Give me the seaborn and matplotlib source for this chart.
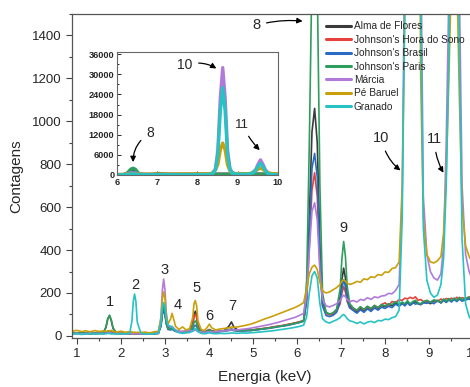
import matplotlib
matplotlib.use("Agg")
import matplotlib.pyplot as plt
import seaborn as sns
import pandas as pd
from matplotlib.ticker import MultipleLocator

# energia (keV) - grade comum a todas as amostras
energia = [0.9, 1.0, 1.1, 1.2, 1.3, 1.4, 1.5, 1.6,
           1.66, 1.70, 1.74, 1.78, 1.82,
           1.9, 2.0, 2.1, 2.2,
           2.25, 2.28, 2.31, 2.34, 2.37,
           2.45, 2.55, 2.65, 2.75, 2.85,
           2.91, 2.94, 2.97, 3.00, 3.03, 3.07,
           3.13, 3.16, 3.19, 3.24,
           3.32, 3.40, 3.48, 3.56,
           3.63, 3.66, 3.69, 3.72, 3.75,
           3.82, 3.90,
           3.96, 4.01, 4.06,
           4.15, 4.25, 4.35,
           4.45, 4.51, 4.57,
           4.65, 4.75, 4.85, 4.95, 5.05, 5.15, 5.25, 5.35, 5.45, 5.55, 5.65, 5.75, 5.85, 5.95, 6.05, 6.15,
           6.22, 6.28, 6.34, 6.40, 6.46, 6.52, 6.58,
           6.66, 6.74, 6.82, 6.90,
           6.98, 7.02, 7.06, 7.10, 7.14, 7.20,
           7.28, 7.36, 7.44, 7.52, 7.60, 7.68, 7.76, 7.84, 7.92, 8.00, 8.08, 8.16, 8.24, 8.32,
           8.39, 8.45, 8.51, 8.57, 8.63, 8.69, 8.75, 8.81, 8.87,
           8.95, 9.03, 9.11, 9.19, 9.27, 9.33,
           9.39, 9.45, 9.51, 9.57, 9.63, 9.69, 9.75,
           9.83, 9.91, 9.99, 10.07, 10.15, 10.23, 10.31, 10.4]

alma_de_flores = [14, 12, 15, 11, 13, 10, 12, 14,
                  40, 78, 95, 72, 35,
                  12, 10, 13, 9,
                  10, 12, 11, 9, 12,
                  10, 8, 11, 9, 14,
                  55, 110, 130, 110, 65, 38,
                  35, 38, 32, 25,
                  20, 18, 22, 24,
                  55, 100, 115, 95, 45,
                  22, 18,
                  25, 30, 24,
                  20, 22, 25,
                  45, 65, 40,
                  28, 24, 27, 25, 29, 31, 34, 37, 40, 44, 47, 50, 55, 60, 64, 70,
                  180, 550, 950, 1060, 900, 420, 150,
                  110, 100, 105, 120,
                  180, 260, 316, 270, 190, 140,
                  125, 112, 128, 118, 134, 122, 138, 128, 142, 136, 148, 140, 154, 144,
                  152, 146, 158, 144, 152, 160, 150, 146, 156,
                  160, 150, 162, 166, 154, 168,
                  158, 170, 162, 174, 164, 176, 166,
                  172, 178, 166, 174, 180, 170, 168, 176]

hora_do_sono = [12, 14, 11, 13, 10, 12, 14, 11,
                15, 20, 22, 18, 14,
                11, 13, 10, 12,
                12, 10, 13, 11, 10,
                12, 9, 10, 13, 11,
                50, 105, 125, 105, 58, 32,
                30, 34, 30, 22,
                19, 21, 18, 22,
                50, 88, 100, 85, 40,
                20, 17,
                22, 28, 22,
                19, 21, 23,
                28, 32, 27,
                26, 25, 28, 27, 30, 33, 35, 38, 42, 45, 48, 52, 56, 60, 66, 72,
                160, 420, 680, 760, 650, 320, 140,
                105, 98, 102, 115,
                150, 200, 230, 205, 160, 130,
                128, 118, 134, 122, 137, 126, 142, 132, 146, 154, 142, 160, 156, 168,
                166, 176, 172, 180, 174, 182, 166, 170, 160,
                164, 158, 166, 160, 172, 166,
                174, 170, 176, 168, 180, 170, 178,
                174, 182, 172, 180, 184, 174, 182, 176]

brasil = [13, 11, 14, 12, 10, 13, 11, 12,
          14, 18, 20, 17, 13,
          12, 10, 11, 13,
          11, 13, 12, 10, 11,
          10, 12, 9, 11, 12,
          45, 98, 118, 100, 55, 30,
          28, 32, 27, 21,
          18, 20, 17, 21,
          30, 44, 50, 44, 28,
          18, 16,
          20, 24, 20,
          18, 20, 22,
          25, 28, 24,
          22, 24, 23, 26, 27, 30, 33, 35, 38, 42, 45, 48, 52, 57, 62, 68,
          170, 480, 780, 850, 740, 360, 140,
          95, 90, 96, 110,
          160, 220, 262, 230, 170, 130,
          118, 106, 122, 110, 126, 114, 130, 120, 134, 128, 138, 132, 148, 138,
          150, 140, 154, 142, 156, 148, 152, 146, 154,
          152, 158, 150, 164, 154, 166,
          156, 168, 158, 170, 160, 172, 162,
          168, 172, 162, 170, 174, 166, 164, 172]

paris = [15, 13, 12, 14, 11, 13, 12, 15,
         42, 80, 96, 75, 38,
         13, 11, 12, 10,
         11, 12, 10, 13, 12,
         11, 10, 12, 10, 13,
         55, 115, 140, 115, 62, 35,
         32, 36, 31, 24,
         20, 19, 21, 23,
         40, 62, 70, 60, 34,
         20, 18,
         22, 27, 22,
         20, 21, 24,
         28, 33, 27,
         25, 24, 27, 26, 29, 31, 34, 36, 40, 43, 46, 50, 54, 58, 63, 70,
         260, 900, 1700, 2000, 1650, 700, 200,
         110, 102, 108, 125,
         220, 360, 440, 370, 230, 150,
         130, 120, 136, 124, 138, 128, 142, 132, 146, 140, 150, 146, 160, 148,
         158, 150, 164, 150, 160, 166, 154, 150, 160,
         166, 156, 168, 162, 158, 172,
         162, 174, 164, 176, 166, 180, 168,
         176, 180, 168, 178, 184, 174, 172, 180]

marcia = [10, 12, 9, 11, 13, 10, 12, 11,
          12, 14, 15, 13, 11,
          10, 12, 9, 11,
          10, 11, 12, 10, 11,
          9, 11, 10, 12, 14,
          90, 210, 265, 215, 110, 50,
          40, 45, 38, 28,
          22, 20, 24, 26,
          22, 25, 28, 24, 20,
          18, 16,
          18, 20, 18,
          19, 22, 24,
          26, 30, 27,
          28, 31, 33, 36, 40, 44, 48, 52, 57, 62, 68, 74, 80, 86, 95, 105,
          190, 400, 580, 620, 540, 300, 170,
          140, 135, 142, 150,
          165, 180, 190, 182, 170, 160,
          165, 158, 170, 166, 178, 170, 182, 178, 186, 188, 198, 196, 212, 240,
          650, 1900, 7500, 23000, 32000, 23000, 7500, 1900, 650,
          380, 300, 270, 260, 290, 420,
          900, 1600, 3200, 4500, 3200, 1600, 700,
          380, 300, 260, 240, 230, 225, 220, 215]

pe_baruel = [22, 26, 20, 24, 19, 25, 21, 23,
             20, 24, 22, 26, 21,
             18, 22, 17, 20,
             19, 16, 18, 15, 17,
             16, 18, 14, 19, 22,
             80, 170, 205, 175, 90, 55,
             80, 105, 85, 45,
             30, 42, 28, 34,
             85, 150, 165, 140, 70,
             30, 26,
             40, 55, 38,
             28, 32, 35,
             38, 42, 40,
             42, 46, 50, 55, 62, 70, 78, 85, 92, 100, 108, 116, 124, 132, 142, 155,
             220, 290, 320, 330, 310, 250, 210,
             200, 205, 215, 225,
             240, 255, 262, 255, 245, 240,
             245, 254, 250, 266, 262, 276, 272, 286, 282, 298, 296, 314, 318, 345,
             700, 1500, 3200, 7500, 9500, 7500, 3000, 1200, 550,
             380, 345, 340, 350, 370, 480,
             750, 1200, 1700, 2000, 1700, 1100, 600,
             420, 370, 340, 330, 320, 315, 318, 312]

granado = [8, 10, 7, 9, 11, 8, 10, 9,
           10, 12, 11, 9, 10,
           8, 10, 9, 12,
           70, 160, 195, 160, 65,
           14, 8, 9, 10, 12,
           65, 130, 155, 135, 80, 50,
           45, 42, 35, 25,
           15, 12, 14, 16,
           22, 30, 35, 30, 20,
           12, 10,
           12, 15, 12,
           10, 12, 11,
           12, 14, 13,
           12, 14, 13, 15, 16, 18, 20, 22, 24, 27, 30, 33, 36, 40, 44, 50,
           90, 200, 280, 300, 270, 150, 80,
           65, 60, 68, 75,
           85, 95, 100, 92, 80, 70,
           66, 58, 65, 56, 64, 68, 62, 72, 70, 78, 76, 85, 90, 120,
           550, 1600, 6200, 19000, 26000, 19000, 6000, 1600, 500,
           260, 200, 180, 190, 240, 360,
           700, 1300, 2500, 3500, 2500, 1300, 450,
           150, 90, 65, 50, 45, 42, 40, 38]

amostras = ["Alma de Flores", "Johnson's Hora do Sono", "Johnson's Brasil",
            "Johnson's Paris", "Márcia", "Pé Baruel", "Granado"]
cores = ["#3a3a3a", "#e8403c", "#2a6cc4", "#2e9e5e", "#b27ad8", "#c9a00a", "#26c2c4"]
series = [alma_de_flores, hora_do_sono, brasil, paris, marcia, pe_baruel, granado]

# dataframe longo para o seaborn
linhas = []
for nome, vals in zip(amostras, series):
    for e, c in zip(energia, vals):
        linhas.append((nome, e, c))
df = pd.DataFrame(linhas, columns=["Amostra", "Energia", "Contagens"])

sns.set_style("ticks")
plt.rcParams["font.family"] = ["Liberation Sans", "DejaVu Sans"]

fig = plt.figure(figsize=(4.70, 3.87), dpi=100)
ax = fig.add_axes([0.153, 0.127, 0.95, 0.837])

sns.lineplot(data=df, x="Energia", y="Contagens", hue="Amostra", hue_order=amostras,
             palette=cores, lw=1.2, ax=ax, sort=False, estimator=None)
ax.set_xlim(0.886, 11.03)
ax.set_ylim(-9, 1500)
ax.xaxis.set_major_locator(MultipleLocator(1))
ax.xaxis.set_minor_locator(MultipleLocator(0.5))
ax.yaxis.set_major_locator(MultipleLocator(200))
ax.yaxis.set_minor_locator(MultipleLocator(100))
ax.set_xticks(range(1, 11))
ax.tick_params(axis="both", which="major", labelsize=9.5, length=4, width=0.8, color="#444")
ax.tick_params(axis="both", which="minor", length=2.5, width=0.8, color="#444")
for s in ax.spines.values():
    s.set_color("#555")
    s.set_linewidth(0.9)
ax.set_xlabel("Energia (keV)", fontsize=11)
ax.set_ylabel("Contagens", fontsize=11)
ax.xaxis.set_label_coords(0.432, -0.1)
ax.yaxis.set_label_coords(-0.11, 0.5)

leg = ax.legend(loc="upper left", bbox_to_anchor=(0.685, 0.955), bbox_transform=fig.transFigure,
                frameon=False, fontsize=7.3, handlelength=2.5, handletextpad=0.25,
                labelspacing=0.33, borderaxespad=0)
for l in leg.get_lines():
    l.set_linewidth(2.2)

# rótulos dos picos
picos = [("1", 1.75, 158), ("2", 2.32, 237), ("3", 2.98, 307), ("4", 3.30, 144),
         ("5", 3.71, 223), ("6", 4.01, 93), ("7", 4.53, 140), ("9", 7.06, 502)]
for txt, x, y in picos:
    ax.text(x, y, txt, ha="center", va="center", fontsize=10.5)

seta = dict(arrowstyle="-|>", color="k", lw=0.9, mutation_scale=8)
ax.annotate("8", xy=(6.19, 1465), xytext=(5.08, 1447), ha="center", va="center", fontsize=10.5,
            arrowprops=dict(seta, connectionstyle="arc3,rad=-0.1"))
ax.annotate("10", xy=(8.40, 763), xytext=(7.92, 921), ha="center", va="center", fontsize=10.5,
            arrowprops=dict(seta, connectionstyle="arc3,rad=0.2"))
ax.annotate("11", xy=(9.36, 749), xytext=(9.13, 916), ha="center", va="center", fontsize=10.5,
            arrowprops=dict(seta, connectionstyle="arc3,rad=0.15"))

# inserção 6-10 keV
axi = fig.add_axes([0.249, 0.548, 0.342, 0.318])
sns.lineplot(data=df, x="Energia", y="Contagens", hue="Amostra", hue_order=amostras,
             palette=cores, lw=2.4, ax=axi, sort=False, estimator=None, legend=False)
axi.set_xlim(6, 10)
axi.set_ylim(0, 36700)
axi.xaxis.set_major_locator(MultipleLocator(1))
axi.xaxis.set_minor_locator(MultipleLocator(0.5))
axi.yaxis.set_major_locator(MultipleLocator(6000))
axi.yaxis.set_minor_locator(MultipleLocator(3000))
axi.tick_params(axis="both", which="major", direction="in", labelsize=6.6, length=3, width=0.7, pad=2)
axi.tick_params(axis="both", which="minor", direction="in", length=1.5, width=0.7)
for t in axi.get_xticklabels() + axi.get_yticklabels():
    t.set_fontweight("bold")
for s in axi.spines.values():
    s.set_color("#666")
    s.set_linewidth(0.8)
axi.set_xlabel("")
axi.set_ylabel("")
axi.annotate("10", xy=(8.53, 31300), xytext=(7.69, 32700), ha="center", va="center", fontsize=10,
             arrowprops=dict(seta, connectionstyle="arc3,rad=-0.25"))
axi.annotate("8", xy=(6.40, 3000), xytext=(6.82, 12500), ha="center", va="center", fontsize=10,
             arrowprops=dict(seta, connectionstyle="arc3,rad=0.3"))
axi.annotate("11", xy=(9.6, 6800), xytext=(9.12, 15000), ha="center", va="center", fontsize=9.5,
             arrowprops=dict(seta, connectionstyle="arc3,rad=0.1"))

fig.savefig("out.png", dpi=100)
